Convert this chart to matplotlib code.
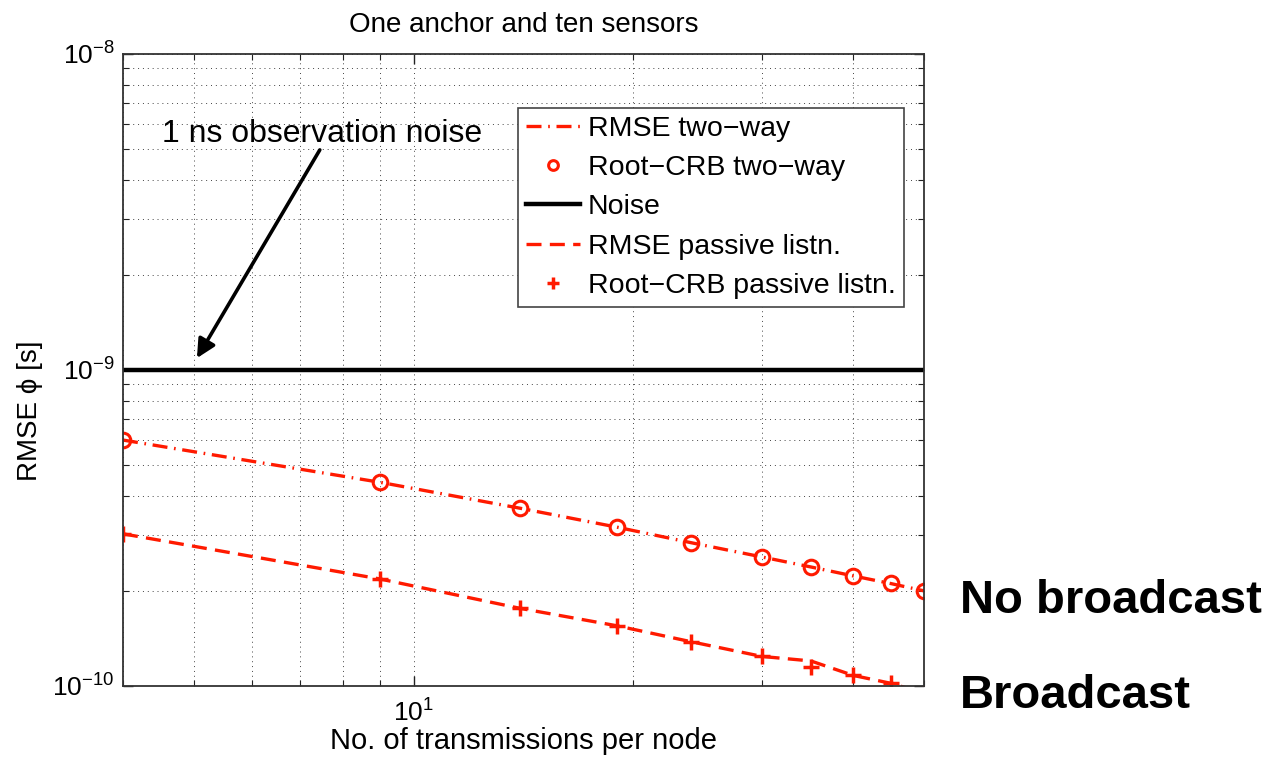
import matplotlib
matplotlib.use("Agg")
import matplotlib.pyplot as plt
from matplotlib.ticker import LogLocator, NullFormatter, FixedLocator

plt.rcParams['font.family'] = ['Liberation Sans', 'DejaVu Sans']
plt.rcParams['mathtext.fontset'] = 'custom'
plt.rcParams['mathtext.rm'] = 'Liberation Sans'
plt.rcParams['mathtext.it'] = 'Liberation Sans:italic'
plt.rcParams['mathtext.bf'] = 'Liberation Sans:bold'

# ---- data ----
transmissions = [4, 9, 14, 19, 24, 30, 35, 40, 45, 50]
rmse_two_way = [6.0e-10, 4.41e-10, 3.65e-10, 3.18e-10, 2.84e-10, 2.56e-10, 2.38e-10, 2.23e-10, 2.11e-10, 2.0e-10]
crb_two_way = [6.0e-10, 4.41e-10, 3.65e-10, 3.18e-10, 2.84e-10, 2.56e-10, 2.38e-10, 2.23e-10, 2.11e-10, 2.0e-10]
rmse_passive = [3.03e-10, 2.18e-10, 1.76e-10, 1.55e-10, 1.38e-10, 1.24e-10, 1.20e-10, 1.08e-10, 1.02e-10, 0.95e-10]
crb_passive = [3.03e-10, 2.18e-10, 1.76e-10, 1.55e-10, 1.38e-10, 1.24e-10, 1.15e-10, 1.08e-10, 1.02e-10, 0.95e-10]
noise_level = 1e-9
x_range = [4, 50]
y_range = [1e-10, 1e-8]
x_major_ticks = [10]
y_major_ticks = [1e-10, 1e-9, 1e-8]

labels = ['RMSE two\u2212way', 'Root\u2212CRB two\u2212way', 'Noise',
          'RMSE passive listn.', 'Root\u2212CRB passive listn.']
title = 'One anchor and ten sensors'
xlabel = 'No. of transmissions per node'
ylabel = 'RMSE \u03d5 [s]'
annotation_text = '1 ns observation noise'
side_labels = ['No broadcast', 'Broadcast']

red = '#ff1a00'

fig = plt.figure(figsize=(12.76, 7.61), dpi=100)
ax = fig.add_axes([0.0964, 0.0986, 0.6277, 0.8305])
ax.set_xscale('log')
ax.set_yscale('log')

l1, = ax.plot(transmissions, rmse_two_way, color=red, lw=2.4, linestyle=(0, (4.5, 2, 0.5, 2)))
l2, = ax.plot(transmissions, crb_two_way, color=red, lw=0, marker='o', markersize=10.5,
              markerfacecolor='none', markeredgewidth=2.2)
l3, = ax.plot(x_range, [noise_level, noise_level], color='black', lw=3.2)
l4, = ax.plot(transmissions, rmse_passive, color=red, lw=2.4, linestyle=(0, (4.5, 2.5)))
l5, = ax.plot(transmissions, crb_passive, color=red, lw=0, marker='+', markersize=12,
              markeredgewidth=2.5)

ax.set_xlim(x_range)
ax.set_ylim(y_range)

ax.xaxis.set_major_locator(FixedLocator(x_major_ticks))
ax.xaxis.set_minor_locator(LogLocator(base=10, subs=range(2, 10)))
ax.xaxis.set_minor_formatter(NullFormatter())
ax.yaxis.set_major_locator(FixedLocator(y_major_ticks))
ax.yaxis.set_minor_locator(LogLocator(base=10, subs=range(2, 10)))
ax.yaxis.set_minor_formatter(NullFormatter())
ax.set_xticklabels([r'$10^{1}$'])
ax.set_yticklabels([r'$10^{-10}$', r'$10^{-9}$', r'$10^{-8}$'])

ax.grid(True, which='both', color='#444444', linestyle=(0, (1, 4)), linewidth=0.7)
ax.tick_params(which='both', direction='in', top=True, right=True, labelsize=19, colors='#222222')
ax.tick_params(which='major', length=7, width=1)
ax.tick_params(which='minor', length=4, width=0.8)
ax.tick_params(axis='both', labelcolor='black')
ax.tick_params(axis='x', pad=10)
ax.tick_params(axis='y', pad=6)
for s in ax.spines.values():
    s.set_color('#333333')
    s.set_linewidth(1.3)

ax.set_title(title, fontsize=20, pad=16)
ax.set_xlabel(xlabel, fontsize=21, labelpad=0)
ax.set_ylabel(ylabel, fontsize=20)
ax.yaxis.set_label_coords(-0.1, 0.435)

leg = ax.legend([l1, l2, l3, l4, l5], labels, loc='upper right', bbox_to_anchor=(0.975, 0.915),
                fontsize=20.5, frameon=True, fancybox=False, framealpha=1, edgecolor='#444444',
                handlelength=1.9, handletextpad=0.25, labelspacing=0.46, borderpad=0.3,
                borderaxespad=0)
leg.get_frame().set_linewidth(1.2)
for h in leg.legend_handles:
    if h.get_marker() == 'o':
        h.set_markersize(7)
    elif h.get_marker() == '+':
        h.set_markersize(9)

ax.annotate('', xy=(5.05, 1.09e-9), xytext=(7.44, 4.97e-9),
            arrowprops=dict(arrowstyle='-|>', lw=2.6, color='black', mutation_scale=28,
                            shrinkA=0, shrinkB=0))
ax.text(7.49, 5.27e-9, annotation_text, fontsize=23, ha='center', va='baseline')

fig.text(0.752, 0.1945, side_labels[0], fontsize=34, fontweight='bold', ha='left', va='baseline')
fig.text(0.752, 0.0696, side_labels[1], fontsize=34, fontweight='bold', ha='left', va='baseline')

fig.savefig('out.png', dpi=100)
